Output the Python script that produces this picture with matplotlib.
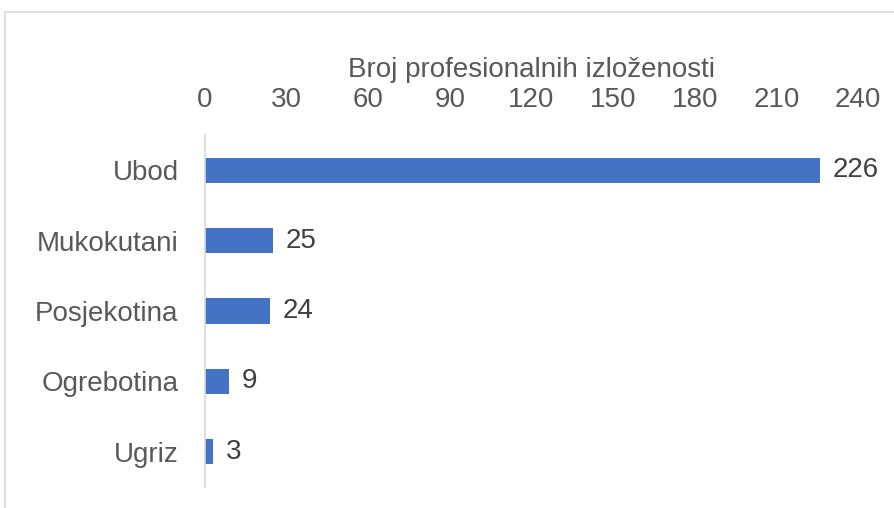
import matplotlib
matplotlib.use('Agg')
from matplotlib import pyplot as plt
from matplotlib.patches import Rectangle

categories = ['Ubod', 'Mukokutani', 'Posjekotina', 'Ogrebotina', 'Ugriz']
counts = [226, 25, 24, 9, 3]
x_ticks = [0, 30, 60, 90, 120, 150, 180, 210, 240]
x_label = 'Broj profesionalnih izloženosti'

plt.rcParams['font.family'] = ['Liberation Sans', 'DejaVu Sans']
fs = 20

fig = plt.figure(figsize=(8.95, 5.08), dpi=100)
ax = fig.add_axes([205 / 895, 1 - 487 / 508, (858 - 205) / 895, (487 - 135) / 508])

# outer frame of the chart area (runs off the right and bottom edges)
fig.patches.append(Rectangle((5 / 895, -0.1), 1.2, 1.1 - 12 / 508, transform=fig.transFigure,
                             fill=False, edgecolor='#d9d9d9', linewidth=1.2))

y_pos = list(range(len(categories)))
bars = ax.barh(y_pos, counts, height=0.36, color='#4472c4')
ax.bar_label(bars, labels=[str(c) for c in counts], padding=9, fontsize=fs, color='#404040')

ax.set_yticks(y_pos)
ax.set_yticklabels(categories)
ax.set_ylim(4.5, -0.5)
ax.set_xlim(0, 240)
ax.set_xticks(x_ticks)

ax.xaxis.tick_top()
ax.xaxis.set_label_position('top')
ax.set_xlabel(x_label, fontsize=fs, color='#595959', labelpad=7)
ax.tick_params(axis='x', length=0, pad=16, labelsize=fs, labelcolor='#595959')
ax.tick_params(axis='y', length=0, pad=19, labelsize=fs, labelcolor='#595959')

for side in ['top', 'right', 'bottom']:
    ax.spines[side].set_visible(False)
ax.spines['left'].set_color('#d9d9d9')
ax.spines['left'].set_linewidth(1.2)

fig.savefig('out.png', dpi=100)
